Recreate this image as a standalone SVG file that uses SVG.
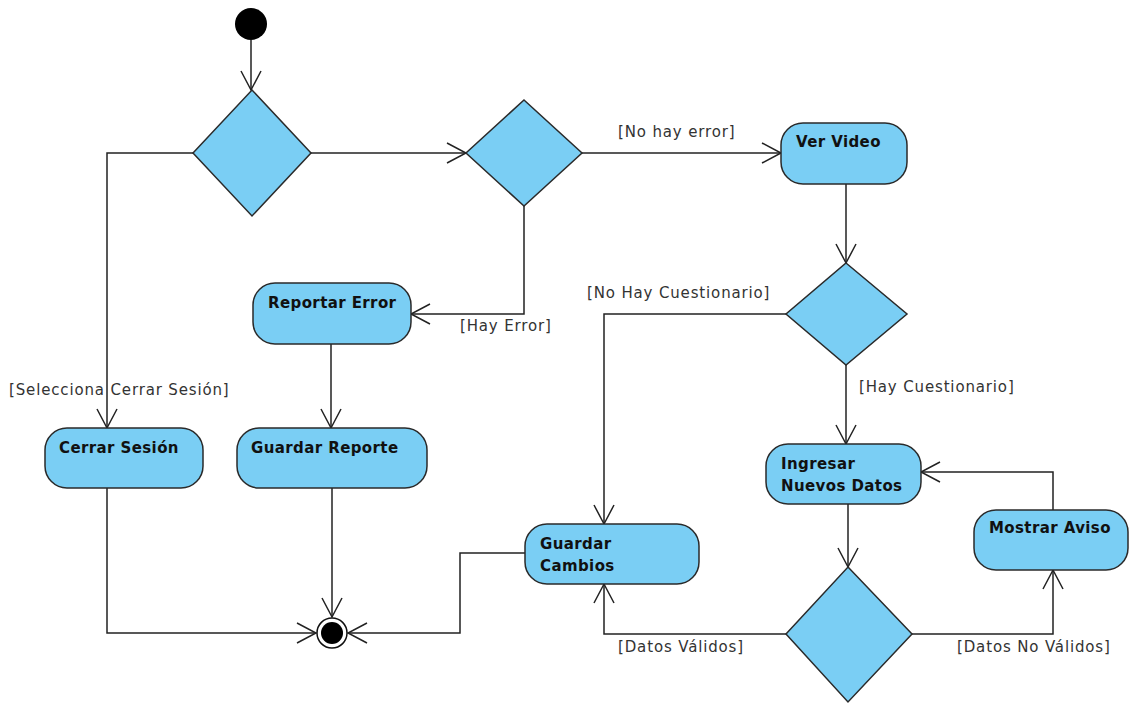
<svg xmlns="http://www.w3.org/2000/svg" width="1130" height="704" viewBox="0 0 1130 704">
  <style>
    .act { fill: #7acef4; stroke: #2a2a2a; stroke-width: 1.5; }
    .dec { fill: #7acef4; stroke: #2a2a2a; stroke-width: 1.5; }
    .name { font-family: "DejaVu Sans", "Liberation Sans", sans-serif; font-size: 15px; font-weight: bold; letter-spacing: 0.4px; fill: #111; }
    .guard { font-family: "DejaVu Sans", "Liberation Sans", sans-serif; font-size: 15px; letter-spacing: 0.85px; fill: #333; }
    .flow { fill: none; stroke: #222; stroke-width: 1.5; marker-end: url(#open); }
  </style>
  <defs>
    <marker id="open" markerUnits="userSpaceOnUse" markerWidth="22" markerHeight="24" viewBox="-1 -2 22 24" refX="19" refY="10" orient="auto">
      <path d="M0,0 L19,10 L0,20" fill="none" stroke="#222" stroke-width="1.5"/>
    </marker>
  </defs>
  <rect width="1130" height="704" fill="#ffffff"/>

  <!-- control flows -->
  <g id="connectors">
    <path class="flow" d="M251,40 L251,90"/>
    <path class="flow" d="M311,153 L466,153"/>
    <path class="flow" d="M193,153 L107,153 L107,428"/>
    <path class="flow" d="M582,153 L781,153"/>
    <path class="flow" d="M524,206 L524,314 L411,314"/>
    <path class="flow" d="M331,344 L331,428"/>
    <path class="flow" d="M846,184 L846,263"/>
    <path class="flow" d="M786,314 L604,314 L604,524"/>
    <path class="flow" d="M846,365 L846,444"/>
    <path class="flow" d="M848,504 L848,567"/>
    <path class="flow" d="M786,634 L604,634 L604,584"/>
    <path class="flow" d="M912,634 L1053,634 L1053,570"/>
    <path class="flow" d="M1053,510 L1053,472 L921,472"/>
    <path class="flow" d="M107,488 L107,633 L316,633"/>
    <path class="flow" d="M332,488 L332,617"/>
    <path class="flow" d="M525,553 L460,553 L460,633 L348,633"/>

    <text class="guard" x="9" y="395">[Selecciona Cerrar Sesión]</text>
    <text class="guard" x="618" y="137">[No hay error]</text>
    <text class="guard" x="460" y="331">[Hay Error]</text>
    <text class="guard" x="587" y="298">[No Hay Cuestionario]</text>
    <text class="guard" x="859" y="392">[Hay Cuestionario]</text>
    <text class="guard" x="618" y="652">[Datos Válidos]</text>
    <text class="guard" x="957" y="652">[Datos No Válidos]</text>
  </g>

  <g id="start">
    <circle cx="251" cy="24" r="16" fill="#000"/>
  </g>

  <g id="decision-menu">
    <polygon class="dec" points="252,90 311,153 252,216 193,153"/>
  </g>
  <g id="decision-error">
    <polygon class="dec" points="524,100 582,153 524,206 466,153"/>
  </g>
  <g id="decision-cuestionario">
    <polygon class="dec" points="846,263 907,314 846,365 786,314"/>
  </g>
  <g id="decision-datos">
    <polygon class="dec" points="848,567 912,634 848,702 786,634"/>
  </g>

  <g id="ver-video">
    <rect class="act" x="781" y="123" width="126" height="61" rx="22"/>
    <text class="name" x="796" y="147">Ver Video</text>
  </g>
  <g id="reportar-error">
    <rect class="act" x="253" y="283" width="158" height="61" rx="22"/>
    <text class="name" x="268" y="308">Reportar Error</text>
  </g>
  <g id="cerrar-sesion">
    <rect class="act" x="45" y="428" width="158" height="60" rx="22"/>
    <text class="name" x="59" y="453">Cerrar Sesión</text>
  </g>
  <g id="guardar-reporte">
    <rect class="act" x="237" y="428" width="190" height="60" rx="22"/>
    <text class="name" x="251" y="453">Guardar Reporte</text>
  </g>
  <g id="guardar-cambios">
    <rect class="act" x="525" y="524" width="174" height="60" rx="22"/>
    <text class="name" x="540" y="549">Guardar</text>
    <text class="name" x="540" y="571">Cambios</text>
  </g>
  <g id="ingresar-datos">
    <rect class="act" x="766" y="444" width="155" height="60" rx="22"/>
    <text class="name" x="781" y="469">Ingresar</text>
    <text class="name" x="781" y="491">Nuevos Datos</text>
  </g>
  <g id="mostrar-aviso">
    <rect class="act" x="974" y="510" width="154" height="60" rx="22"/>
    <text class="name" x="989" y="533">Mostrar Aviso</text>
  </g>

  <g id="final">
    <circle cx="332" cy="633" r="15" fill="#fff" stroke="#111" stroke-width="1.5"/>
    <circle cx="332" cy="633" r="11" fill="#000"/>
  </g>
</svg>
